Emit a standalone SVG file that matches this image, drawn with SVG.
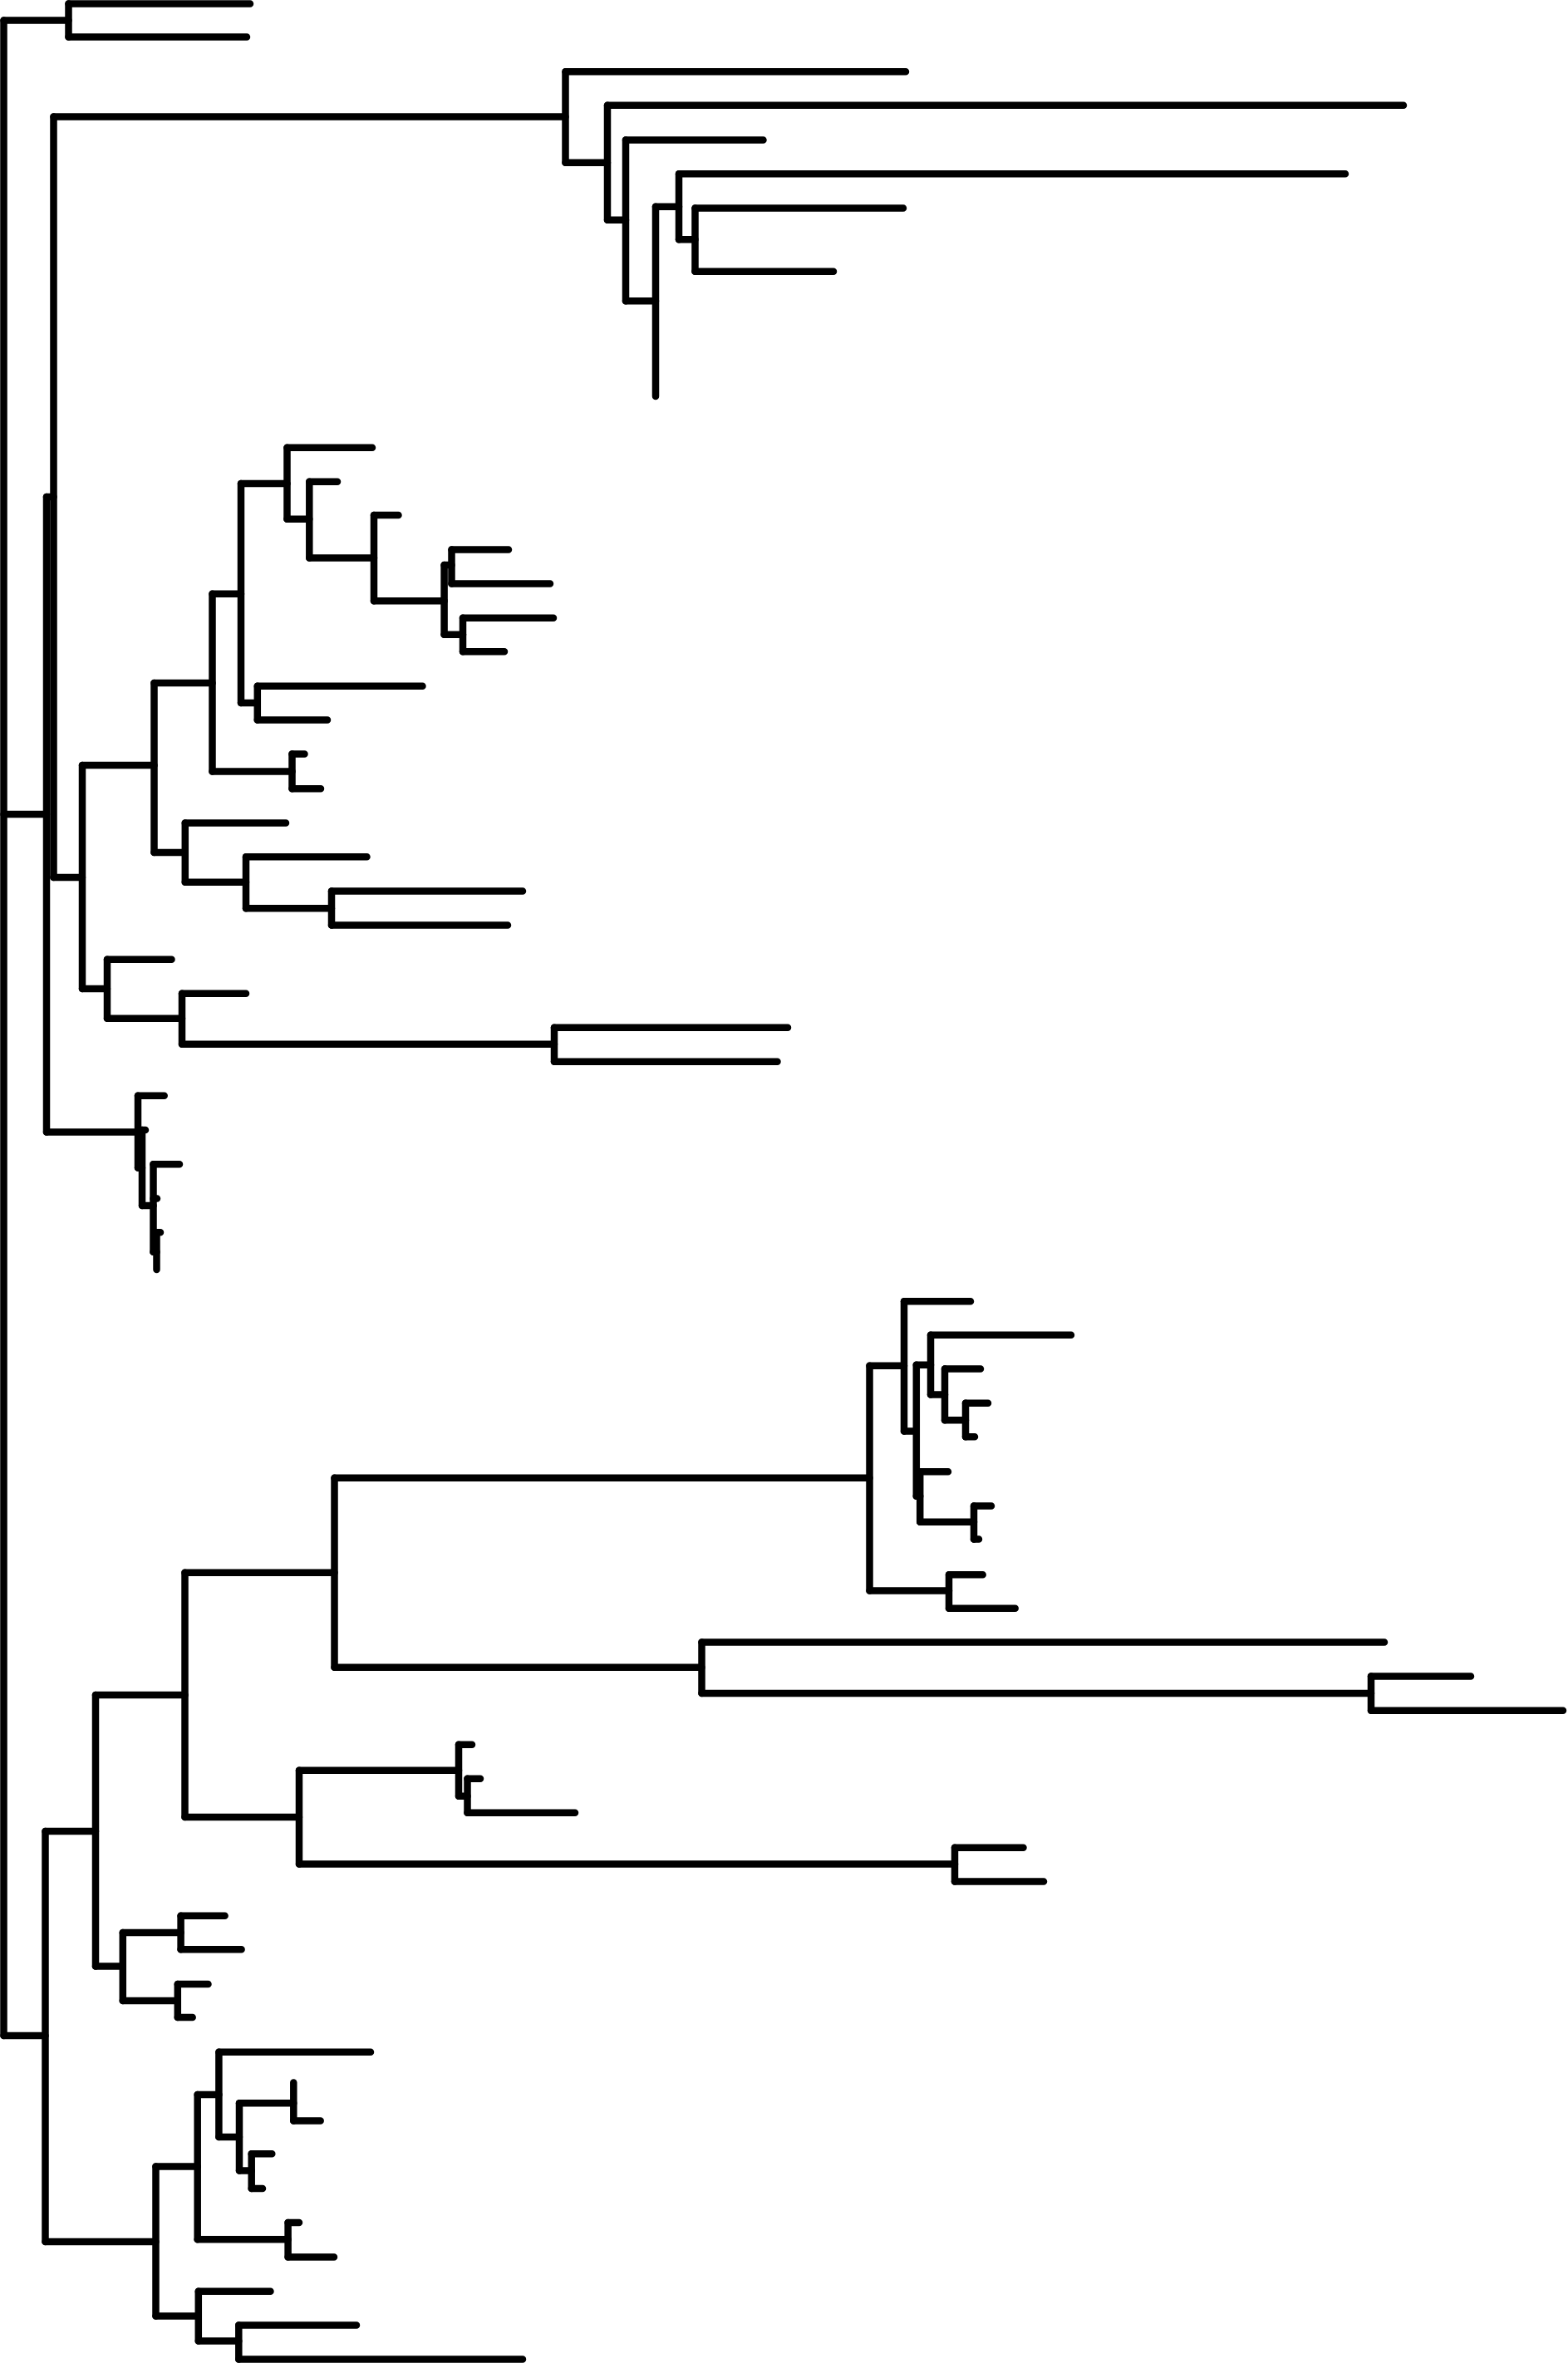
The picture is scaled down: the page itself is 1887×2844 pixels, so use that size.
<svg xmlns="http://www.w3.org/2000/svg" width="1887" height="2844" viewBox="0 0 1887 2844">
<style>
.b{fill:none;stroke:#000;stroke-width:8.5;stroke-linecap:round;stroke-linejoin:round}
</style>
<rect width="1887" height="2844" fill="#fff"/>
<g id="nodes" class="b">
<g id="node-root"><path d="M4.5 24.5V2450"/></g>
<g id="node-A"><path d="M82.5 4.5V44.5"/></g>
<g id="node-N0"><path d="M56 598V1362.5"/></g>
<g id="node-N1"><path d="M64.5 140.5V1056"/></g>
<g id="node-B0"><path d="M680.5 86.2V195.7"/></g>
<g id="node-B1"><path d="M731 126.7V264.7"/></g>
<g id="node-B2"><path d="M753 168.5V362.3"/></g>
<g id="node-B3"><path d="M789 248.8V477"/></g>
<g id="node-B4"><path d="M817 209.2V288.3"/></g>
<g id="node-B5"><path d="M836.5 250.5V326.8"/></g>
<g id="node-C0"><path d="M99 921V1190"/></g>
<g id="node-C1"><path d="M185.5 822V1026"/></g>
<g id="node-C2"><path d="M255.5 714.7V928.6"/></g>
<g id="node-C3"><path d="M290 582V846"/></g>
<g id="node-C3a"><path d="M345.5 538.7V624.8"/></g>
<g id="node-C3c"><path d="M372.3 579.8V671.6"/></g>
<g id="node-C3d"><path d="M450 620V723.3"/></g>
<g id="node-C3e"><path d="M534.6 680V763.7"/></g>
<g id="node-C3f"><path d="M543.5 661.5V702.4"/></g>
<g id="node-C3g"><path d="M557 743.8V784.3"/></g>
<g id="node-C3b"><path d="M309.8 825.7V866.4"/></g>
<g id="node-C4"><path d="M351.5 907.6V949.3"/></g>
<g id="node-C5"><path d="M222.8 990.4V1061.8"/></g>
<g id="node-C6"><path d="M296 1031.2V1093.2"/></g>
<g id="node-C6a"><path d="M399 1072.5V1113.5"/></g>
<g id="node-C7"><path d="M129 1154.8V1225.8"/></g>
<g id="node-C8"><path d="M219 1195.8V1256.8"/></g>
<g id="node-C9"><path d="M667 1236.8V1277.8"/></g>
<g id="node-D0"><path d="M166 1318.8V1405.5"/></g>
<g id="node-D1"><path d="M171 1360V1451"/></g>
<g id="node-D2"><path d="M184.5 1401.3V1506.7"/></g>
<g id="node-D3"><path d="M188.5 1483.3V1528"/></g>
<g id="node-E0"><path d="M54.5 2204V2698"/></g>
<g id="node-E1"><path d="M115 2040V2366.5"/></g>
<g id="node-E2"><path d="M222.5 1892.8V2187"/></g>
<g id="node-E3"><path d="M402.5 1778.7V2006.7"/></g>
<g id="node-E4"><path d="M1046.5 1643.8V1914.5"/></g>
<g id="node-E4a"><path d="M1088 1566.2V1722.5"/></g>
<g id="node-P"><path d="M1102.8 1642.8V1800.8"/></g>
<g id="node-Q"><path d="M1120 1606.7V1678.5"/></g>
<g id="node-S"><path d="M1137 1647.5V1709.2"/></g>
<g id="node-T"><path d="M1162 1688.8V1729.2"/></g>
<g id="node-R"><path d="M1107.2 1771.2V1831.8"/></g>
<g id="node-U"><path d="M1172 1812.5V1852.5"/></g>
<g id="node-E4z"><path d="M1142 1895.2V1935.8"/></g>
<g id="node-E6"><path d="M844.5 1976.5V2038"/></g>
<g id="node-E6a"><path d="M1650 2017.5V2058.8"/></g>
<g id="node-E7"><path d="M360 2130.8V2243.5"/></g>
<g id="node-E8"><path d="M552 2099.8V2161.8"/></g>
<g id="node-E8b"><path d="M562.5 2140.8V2181.8"/></g>
<g id="node-E9"><path d="M1149 2223.8V2264.5"/></g>
<g id="node-F0"><path d="M147.8 2326V2408"/></g>
<g id="node-F1"><path d="M217.6 2305.7V2346.3"/></g>
<g id="node-F2"><path d="M213.8 2388V2428"/></g>
<g id="node-E5"><path d="M187.5 2607.6V2787.5"/></g>
<g id="node-G0"><path d="M237.7 2520.9V2695.2"/></g>
<g id="node-G1"><path d="M263.4 2469.7V2571.9"/></g>
<g id="node-G2"><path d="M288 2531.3V2612.6"/></g>
<g id="node-G3"><path d="M353.3 2506.5V2552.4"/></g>
<g id="node-G4"><path d="M302.7 2592.3V2634"/></g>
<g id="node-G5"><path d="M346.6 2674.9V2716.4"/></g>
<g id="node-H0"><path d="M238.8 2757.7V2817.5"/></g>
<g id="node-H1"><path d="M287.3 2798.4V2839.4"/></g>
</g>
<g id="connectors" class="b">
<path d="M4.5 24.5H82.5M4.5 980H56M4.5 2450H54.5M56 598H64.5M56 1362.5H166M64.5 140.5H680.5M64.5 1056H99"/>
<path d="M680.5 195.7H731M731 264.7H753M753 362.3H789M789 248.8H817M817 288.3H836.5"/>
<path d="M99 921H185.5M99 1190H129M185.5 822H255.5M185.5 1026H222.8M255.5 714.7H290M255.5 928.6H351.5M290 582H345.5M290 846H309.8M345.5 624.8H372.3M372.3 671.6H450M450 723.3H534.6M534.6 680H543.5M534.6 763.7H557M222.8 1061.8H296M296 1093.2H399M129 1225.8H219M219 1256.8H667"/>
<path d="M166 1405.5H171M171 1451H184.5M184.5 1506.7H188.5"/>
<path d="M54.5 2204H115M54.5 2698H187.5M115 2040H222.5M115 2366.5H147.8M222.5 1892.8H402.5M222.5 2187H360M402.5 1778.7H1046.5M402.5 2006.7H844.5M1046.5 1643.8H1088M1046.5 1914.5H1142M1088 1722.5H1102.8M1102.8 1642.8H1120M1102.8 1800.8H1107.2M1120 1678.5H1137M1137 1709.2H1162M1107.2 1831.8H1172M844.5 2038H1650M360 2130.8H552M360 2243.5H1149M552 2161.8H562.5M147.8 2326H217.6M147.8 2408H213.8M187.5 2607.6H237.7M187.5 2787.5H238.8M237.7 2520.9H263.4M237.7 2695.2H346.6M263.4 2571.9H288M288 2531.3H353.3M288 2612.6H302.7M238.8 2817.5H287.3"/>
<path d="M82.5 4.5H301M82.5 44.5H297M680.5 86.2H1090M731 126.7H1689M753 168.5H918.5M817 209.2H1619M836.5 250.5H1087M836.5 326.8H1003"/>
<path d="M345.5 538.7H448M372.3 579.8H406M450 620H479.5M543.5 661.5H612M543.5 702.4H662M557 743.8H666M557 784.3H607M309.8 825.7H508.5M309.8 866.4H394M351.5 907.6H366.5M351.5 949.3H386M222.8 990.4H344M296 1031.2H441.5M399 1072.5H629M399 1113.5H611M129 1154.8H206.5M219 1195.8H296M667 1236.8H948M667 1277.8H935.5"/>
<path d="M166 1318.8H197.7M171 1360H175M184.5 1401.3H216M184.5 1442.5H189M188.5 1483.3H193"/>
<path d="M1088 1566.2H1168M1120 1606.7H1289M1137 1647.5H1180M1162 1688.8H1189M1162 1729.2H1173M1107.2 1771.2H1141M1172 1812.5H1193M1172 1852.5H1178M1142 1895.2H1182.7M1142 1935.8H1221.7M844.5 1976.5H1666M1650 2017.5H1770M1650 2058.8H1881"/>
<path d="M552 2099.8H568M562.5 2140.8H578M562.5 2181.8H692M1149 2223.8H1231.5M1149 2264.5H1256M217.6 2305.7H270.6M217.6 2346.3H290.6M213.8 2388H250.5M213.8 2428H231.7M263.4 2469.7H446M353.3 2552.4H385.7M302.7 2592.3H327.3M302.7 2634H316M346.6 2674.9H360M346.6 2716.4H402M238.8 2757.7H325.5M287.3 2798.4H429M287.3 2839.4H629"/>
</g>
</svg>
